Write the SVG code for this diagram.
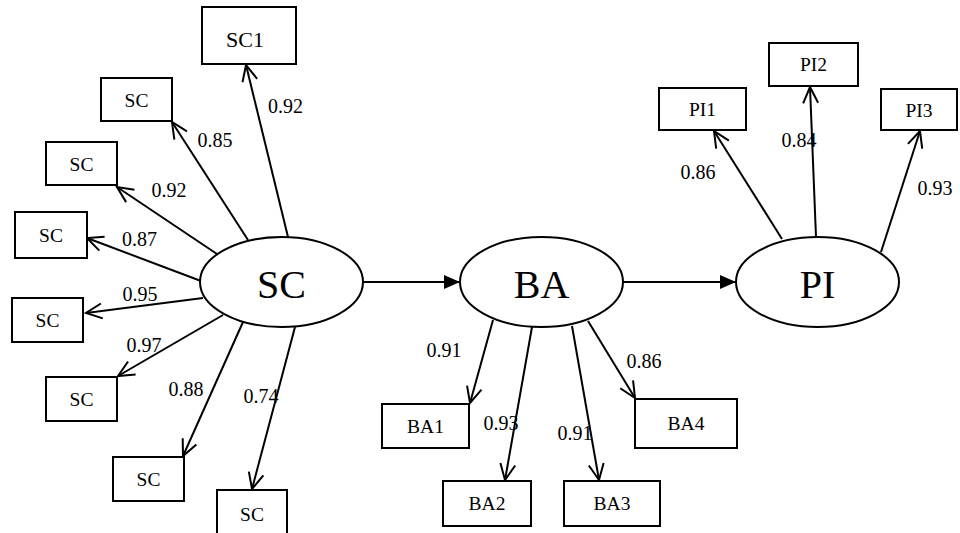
<svg xmlns="http://www.w3.org/2000/svg" width="960" height="533" viewBox="0 0 960 533">
<defs>
<style>
.box{fill:#fff;stroke:#000;stroke-width:2}
.ell{fill:#fff;stroke:#000;stroke-width:2}
.lbl{font-family:"Liberation Serif","Times New Roman",serif;font-size:19.5px;text-anchor:middle;fill:#000}
.big{font-family:"Liberation Serif","Times New Roman",serif;font-size:40px;text-anchor:middle;fill:#000}
.num{font-family:"Liberation Serif","Times New Roman",serif;font-size:20px;text-anchor:middle;fill:#000}
.ld{stroke:#000;stroke-width:2;fill:none;marker-end:url(#open)}
.st{stroke:#000;stroke-width:2;fill:none;marker-end:url(#solid)}
</style>
<marker id="open" markerUnits="userSpaceOnUse" markerWidth="20" markerHeight="20" viewBox="0 0 20 20" refX="18" refY="10" orient="auto">
<path d="M2,2.5 L18,10 L2,17.5" fill="none" stroke="#000" stroke-width="2"/>
</marker>
<marker id="solid" markerUnits="userSpaceOnUse" markerWidth="16" markerHeight="14" viewBox="0 0 16 14" refX="16" refY="7" orient="auto">
<path d="M0,0 L16,7 L0,14 Z" fill="#000"/>
</marker>
</defs>

<g id="connectors">
<line class="ld" x1="288" y1="237" x2="246" y2="65"/>
<line class="ld" x1="248" y1="240" x2="172" y2="122"/>
<line class="ld" x1="217" y1="254" x2="117" y2="187"/>
<line class="ld" x1="201" y1="281" x2="87" y2="238"/>
<line class="ld" x1="203" y1="298" x2="86" y2="313"/>
<line class="ld" x1="223" y1="315" x2="118" y2="376"/>
<line class="ld" x1="243" y1="322" x2="183" y2="456"/>
<line class="ld" x1="295" y1="327" x2="252" y2="489"/>
<line class="ld" x1="493" y1="320" x2="470" y2="403"/>
<line class="ld" x1="532" y1="327" x2="505" y2="480"/>
<line class="ld" x1="572" y1="326" x2="599" y2="480"/>
<line class="ld" x1="588" y1="321" x2="635" y2="398"/>
<line class="ld" x1="782" y1="239" x2="714" y2="131"/>
<line class="ld" x1="816" y1="237" x2="810" y2="87"/>
<line class="ld" x1="881" y1="252" x2="920" y2="131"/>
<line class="st" x1="363" y1="282" x2="460" y2="282"/>
<line class="st" x1="623" y1="282" x2="736" y2="282"/>
<text class="num" x="285.5" y="113">0.92</text>
<text class="num" x="215" y="147">0.85</text>
<text class="num" x="169" y="197">0.92</text>
<text class="num" x="139.5" y="246">0.87</text>
<text class="num" x="140" y="301">0.95</text>
<text class="num" x="144" y="352">0.97</text>
<text class="num" x="186" y="396">0.88</text>
<text class="num" x="261" y="403">0.74</text>
<text class="num" x="444" y="357">0.91</text>
<text class="num" x="501" y="430">0.93</text>
<text class="num" x="575" y="440">0.91</text>
<text class="num" x="644" y="368">0.86</text>
<text class="num" x="698" y="179">0.86</text>
<text class="num" x="799" y="147">0.84</text>
<text class="num" x="935" y="195">0.93</text>
</g>

<g id="SC">
<ellipse class="ell" cx="281.5" cy="282" rx="81.5" ry="45"/>
<text class="big" x="281.5" y="298">SC</text>
</g>
<g id="BA">
<ellipse class="ell" cx="541.5" cy="282" rx="81.5" ry="45"/>
<text class="big" x="541.5" y="298">BA</text>
</g>
<g id="PI">
<ellipse class="ell" cx="817.5" cy="282" rx="81.5" ry="45"/>
<text class="big" x="817.5" y="298">PI</text>
</g>

<g id="SC1"><rect class="box" x="202" y="7" width="94" height="57"/><text class="lbl" x="245" y="47" style="font-size:22px">SC1</text></g>
<g id="SCa"><rect class="box" x="101" y="78" width="71" height="43"/><text class="lbl" x="136.5" y="107">SC</text></g>
<g id="SCb"><rect class="box" x="46" y="142" width="71" height="43"/><text class="lbl" x="81.5" y="171">SC</text></g>
<g id="SCc"><rect class="box" x="15" y="212" width="72" height="46"/><text class="lbl" x="51" y="242">SC</text></g>
<g id="SCd"><rect class="box" x="12" y="298" width="71" height="44"/><text class="lbl" x="47.5" y="327">SC</text></g>
<g id="SCe"><rect class="box" x="46" y="377" width="71" height="44"/><text class="lbl" x="81.5" y="406">SC</text></g>
<g id="SCf"><rect class="box" x="113" y="457" width="71" height="44"/><text class="lbl" x="148.5" y="486">SC</text></g>
<g id="SCg"><rect class="box" x="217" y="490" width="70" height="46"/><text class="lbl" x="252" y="521">SC</text></g>

<g id="BA1"><rect class="box" x="382" y="404" width="87" height="44"/><text class="lbl" x="425.5" y="433">BA1</text></g>
<g id="BA2"><rect class="box" x="443" y="481" width="88" height="45"/><text class="lbl" x="487" y="510">BA2</text></g>
<g id="BA3"><rect class="box" x="564" y="481" width="96" height="45"/><text class="lbl" x="612" y="510">BA3</text></g>
<g id="BA4"><rect class="box" x="635" y="399" width="102" height="49"/><text class="lbl" x="686" y="430">BA4</text></g>

<g id="PI1"><rect class="box" x="659" y="88" width="87" height="42"/><text class="lbl" x="702.5" y="116">PI1</text></g>
<g id="PI2"><rect class="box" x="769" y="43" width="89" height="43"/><text class="lbl" x="813.5" y="71">PI2</text></g>
<g id="PI3"><rect class="box" x="881" y="89" width="76" height="41"/><text class="lbl" x="919" y="117">PI3</text></g>
</svg>
